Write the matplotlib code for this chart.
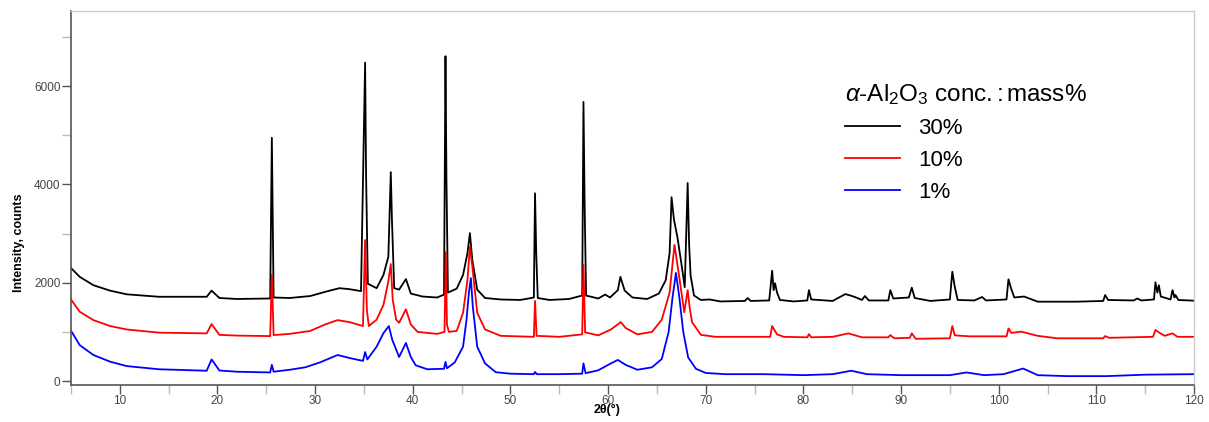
import matplotlib
matplotlib.use("Agg")
import matplotlib.pyplot as plt
from matplotlib.ticker import MultipleLocator

# XRD patterns, (2theta, counts) pairs
pts_30 = [(5, 2300), (5.9, 2120), (7.3, 1950), (9, 1840), (10.7, 1765), (14, 1715), (18.9, 1715),
          (19.4, 1840), (20.2, 1690), (22, 1670), (25.4, 1680), (25.57, 4950), (25.75, 1700),
          (27.4, 1690), (29.5, 1730), (31.3, 1830), (32.5, 1890), (33.5, 1870), (34.7, 1830),
          (35.12, 6480), (35.22, 4180), (35.4, 1980), (36.3, 1890), (37.0, 2160), (37.5, 2530),
          (37.75, 4250), (37.87, 3270), (38.1, 1890), (38.6, 1860), (39.3, 2075), (39.8, 1780),
          (41, 1720), (42.5, 1700), (43.2, 1760), (43.35, 6610), (43.45, 4100), (43.6, 1800),
          (44.5, 1880), (45.15, 2160), (45.6, 2600), (45.85, 3010), (46.1, 2460), (46.6, 1860),
          (47.4, 1690), (49, 1660), (51, 1650), (52.4, 1700), (52.52, 3820), (52.64, 2620),
          (52.8, 1690), (54, 1650), (56, 1670), (57.35, 1740), (57.48, 5680), (57.6, 3580),
          (57.75, 1740), (59, 1680), (59.7, 1760), (60.2, 1700), (61.0, 1850), (61.26, 2120),
          (61.7, 1840), (62.5, 1700), (64, 1670), (65.2, 1780), (65.9, 2050), (66.3, 2600),
          (66.5, 3740), (66.75, 3280), (67.1, 2930), (67.5, 2400), (67.85, 1910), (68.15, 4030),
          (68.3, 2770), (68.45, 2150), (68.8, 1740), (69.5, 1650), (70.4, 1660), (71.5, 1620),
          (74.0, 1630), (74.3, 1690), (74.6, 1630), (76.5, 1640), (76.8, 2245), (76.95, 1850),
          (77.1, 1990), (77.3, 1800), (77.6, 1650), (79, 1620), (80.4, 1640), (80.57, 1850),
          (80.8, 1660), (83, 1630), (84.3, 1770), (84.9, 1735), (85.4, 1700), (86.0, 1650),
          (86.3, 1730), (86.7, 1640), (88.7, 1640), (88.9, 1850), (89.2, 1680), (90.8, 1700),
          (91.1, 1900), (91.4, 1690), (93, 1630), (95.0, 1660), (95.25, 2225), (95.5, 1920),
          (95.8, 1650), (97.5, 1640), (98.3, 1710), (98.7, 1640), (100.8, 1660), (101.0, 2070),
          (101.3, 1865), (101.6, 1700), (102.6, 1720), (104, 1615), (108, 1615), (110.7, 1630),
          (110.9, 1750), (111.2, 1650), (113.8, 1640), (114.2, 1680), (114.6, 1640), (115.9, 1660),
          (116.05, 2010), (116.25, 1800), (116.4, 1950), (116.6, 1720), (117.6, 1660), (117.8, 1850),
          (118.0, 1700), (118.1, 1750), (118.4, 1650), (120, 1635)]

pts_10 = [(5, 1660), (5.9, 1410), (7.3, 1240), (9, 1120), (10.7, 1050), (14, 985), (18.9, 970),
          (19.4, 1160), (20.2, 940), (22, 925), (25.4, 915), (25.57, 2160), (25.75, 935),
          (27.4, 960), (29.5, 1020), (31, 1150), (32.3, 1240), (33.5, 1200), (34.9, 1120),
          (35.12, 2870), (35.3, 1450), (35.5, 1120), (36.3, 1250), (37.0, 1550), (37.5, 2030),
          (37.75, 2380), (37.95, 1650), (38.3, 1250), (38.6, 1185), (39.3, 1460), (39.8, 1150),
          (40.5, 1000), (42.5, 960), (43.25, 1000), (43.38, 2620), (43.5, 1150), (43.7, 1000),
          (44.5, 1020), (45.15, 1390), (45.6, 2055), (45.85, 2730), (46.1, 2330), (46.6, 1390),
          (47.4, 1050), (49, 920), (52.4, 900), (52.52, 1630), (52.68, 920), (55, 900),
          (57.35, 950), (57.48, 2360), (57.65, 990), (59, 930), (60.3, 1050), (61.3, 1200),
          (61.8, 1080), (63, 950), (64.5, 1000), (65.5, 1250), (66.3, 1800), (66.8, 2770),
          (67.3, 2100), (67.8, 1400), (68.15, 1850), (68.35, 1500), (68.6, 1200), (69.5, 940),
          (71, 900), (76.6, 900), (76.8, 1120), (77.3, 950), (78, 900), (80.4, 890),
          (80.57, 955), (80.8, 890), (83, 900), (84.6, 970), (86, 890), (88.7, 890), (88.9, 935),
          (89.3, 870), (90.9, 880), (91.1, 970), (91.5, 860), (95.0, 870), (95.25, 1120),
          (95.5, 930), (97, 910), (100.8, 910), (101.0, 1070), (101.3, 980), (102.3, 1005),
          (104, 920), (106, 870), (110.7, 870), (110.9, 915), (111.3, 880), (115.8, 900),
          (116.05, 1040), (116.4, 990), (117, 920), (117.8, 970), (118.3, 900), (120, 900)]

pts_1 = [(5, 1025), (5.9, 730), (7.3, 530), (9, 395), (10.7, 305), (14, 240), (18.9, 210),
         (19.4, 440), (20.2, 215), (22, 190), (25.4, 175), (25.57, 330), (25.75, 190),
         (27.4, 230), (29, 280), (30.5, 380), (32.3, 530), (33.5, 470), (34.9, 410),
         (35.12, 590), (35.35, 440), (36.3, 700), (37.0, 975), (37.55, 1120), (37.9, 840),
         (38.6, 490), (39.3, 775), (39.8, 490), (40.3, 320), (41.5, 240), (43.2, 250),
         (43.35, 390), (43.5, 260), (44.3, 380), (45.15, 700), (45.5, 1240), (45.75, 1800),
         (45.95, 2095), (46.15, 1510), (46.6, 700), (47.4, 360), (48.5, 180), (50, 150),
         (52.4, 140), (52.52, 185), (52.7, 140), (55, 140), (57.35, 150), (57.48, 360),
         (57.7, 160), (59, 220), (60.2, 350), (61.0, 430), (61.8, 330), (63, 230), (64.5, 280),
         (65.5, 450), (66.2, 1000), (66.6, 1700), (66.95, 2200), (67.3, 1700), (67.7, 1000),
         (68.2, 480), (69, 250), (70, 165), (72, 140), (76, 140), (80, 120), (83, 140),
         (84.9, 210), (86.5, 140), (90, 120), (95, 120), (96.7, 175), (98.5, 120), (100.5, 140),
         (102.5, 255), (104, 120), (107, 100), (111, 100), (115, 130), (120, 140)]

labels = ["30%", "10%", "1%"]
colors = ["black", "#ff0000", "#0000ff"]
series = [pts_30, pts_10, pts_1]

plt.rcParams["font.family"] = ["Liberation Sans", "DejaVu Sans"]
plt.rcParams["mathtext.fontset"] = "custom"
plt.rcParams["mathtext.rm"] = "Liberation Sans"
plt.rcParams["mathtext.it"] = "Liberation Sans:italic"

fig = plt.figure(figsize=(12.09, 4.22), dpi=100)
ax = fig.add_axes([0.0587, 0.0877, 0.9289, 0.8863])

for pts, lab, col in zip(series, labels, colors):
    xs = [p[0] for p in pts]
    ys = [p[1] for p in pts]
    ax.plot(xs, ys, color=col, lw=1.3, label=lab)

ax.set_xlim(5, 120)
ax.set_ylim(-80, 7530)
ax.xaxis.set_major_locator(MultipleLocator(10))
ax.xaxis.set_minor_locator(MultipleLocator(5))
ax.yaxis.set_major_locator(MultipleLocator(2000))
ax.yaxis.set_minor_locator(MultipleLocator(1000))
ax.tick_params(which="both", direction="out", length=6.5, width=1.0, pad=1,
               labelsize=8.5, labelcolor="#444444")
ax.tick_params(which="major", color="#555555")
ax.tick_params(which="minor", color="#bbbbbb")

for side in ["left", "bottom"]:
    ax.spines[side].set_color("#555555")
    ax.spines[side].set_linewidth(1.2)
for side in ["top", "right"]:
    ax.spines[side].set_color("#cccccc")
    ax.spines[side].set_linewidth(1.0)

ax.set_xlabel("2θ(°)", fontsize=9, fontweight="bold")
ax.xaxis.set_label_coords(0.477, -0.05)
ax.set_ylabel("Intensity, counts", fontsize=9, fontweight="bold")
ax.yaxis.set_label_coords(-0.041, 0.38)

leg = ax.legend(title=r"$\alpha$-Al$_2$O$_3$ conc.$\,$:$\,$mass%", loc="upper left",
                bbox_to_anchor=(0.689, 0.81), frameon=False, fontsize=16,
                title_fontsize=17.5, handlelength=2.5, handletextpad=0.8,
                labelspacing=0.5, borderpad=0, borderaxespad=0, alignment="left")
for line in leg.get_lines():
    line.set_linewidth(1.3)

fig.savefig("out.png", dpi=100)
